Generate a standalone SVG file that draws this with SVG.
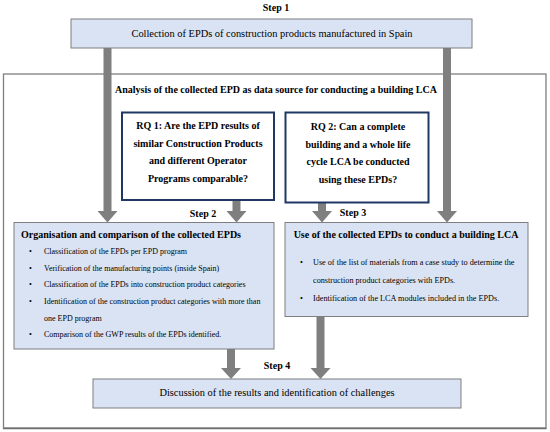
<svg xmlns="http://www.w3.org/2000/svg" width="550" height="432" viewBox="0 0 550 432">
<style>
  text { font-family: "Liberation Serif", "Times New Roman", serif; fill: #000; }
  .b { font-weight: bold; }
  .c { text-anchor: middle; }
  .box { fill: #dae3f3; stroke: #7f7f7f; stroke-width: 1; }
  .rq { fill: #ffffff; stroke: #1f3864; stroke-width: 2; }
  .outer { fill: none; stroke: #7f7f7f; stroke-width: 1.3; }
  .t10 { font-size: 10px; }
  .t104 { font-size: 10.4px; }
  .t8 { font-size: 8px; }
  .t82 { font-size: 8.2px; }
  .shaft { stroke: #7f7f7f; stroke-width: 8; fill: none; }
  .head { fill: #7f7f7f; }
</style>
<rect width="550" height="432" fill="#ffffff"/>

<g id="outer">
  <rect class="outer" x="3.5" y="74" width="542.5" height="354"/>
  <line x1="3" y1="428.5" x2="546.5" y2="428.5" stroke="#6f6f6f" stroke-width="1.5"/>
  <text class="b c t10" x="276" y="93">Analysis of the collected EPD as data source for conducting a building LCA</text>
</g>

<g id="connectors">
  <line class="shaft" x1="107.5" y1="48" x2="107.5" y2="212"/>
  <polygon class="head" points="97.5,211 117.5,211 107.5,222.5"/>
  <line class="shaft" x1="447" y1="48" x2="447" y2="212"/>
  <polygon class="head" points="437,211 457,211 447,222.5"/>
  <line class="shaft" x1="236.5" y1="200" x2="236.5" y2="212"/>
  <polygon class="head" points="226.5,211 246.5,211 236.5,222.5"/>
  <line class="shaft" x1="322" y1="203" x2="322" y2="212"/>
  <polygon class="head" points="312,211 332,211 322,222.5"/>
  <line class="shaft" x1="231" y1="349" x2="231" y2="369"/>
  <polygon class="head" points="221,368 241,368 231,379"/>
  <line class="shaft" x1="320.5" y1="317" x2="320.5" y2="369"/>
  <polygon class="head" points="310.5,368 330.5,368 320.5,379"/>
</g>

<g id="step1">
  <text class="b c t10" x="276" y="11">Step 1</text>
  <rect class="box" x="71" y="19" width="401" height="29"/>
  <text class="c t104" x="272" y="37">Collection of EPDs of construction products manufactured in Spain</text>
</g>

<g id="rq1">
  <rect class="rq" x="122" y="112.5" width="152" height="87.5"/>
  <text class="b c t10" x="198" y="129">RQ 1: Are the EPD results of</text>
  <text class="b c t10" x="198" y="146.7">similar Construction Products</text>
  <text class="b c t10" x="198" y="164.4">and different Operator</text>
  <text class="b c t10" x="198" y="182">Programs comparable?</text>
</g>

<g id="rq2">
  <rect class="rq" x="285.5" y="112.5" width="143" height="90"/>
  <text class="b c t10" x="358" y="130">RQ 2: Can a complete</text>
  <text class="b c t10" x="358" y="147.7">building and a whole life</text>
  <text class="b c t10" x="358" y="165.4">cycle LCA be conducted</text>
  <text class="b c t10" x="358" y="183">using these EPDs?</text>
</g>

<g id="step2">
  <text class="b c t10" x="203" y="217">Step 2</text>
  <rect class="box" x="14" y="222.5" width="260" height="126.5"/>
  <text class="b t10" x="21" y="237.7">Organisation and comparison of the collected EPDs</text>
  <text class="t8" x="29" y="254">•</text>
  <text class="t8" x="44" y="254">Classification of the EPDs per EPD program</text>
  <text class="t8" x="29" y="270.7">•</text>
  <text class="t8" x="44" y="270.7">Verification of the manufacturing points (inside Spain)</text>
  <text class="t8" x="29" y="287.4">•</text>
  <text class="t8" x="44" y="287.4">Classification of the EPDs into construction product categories</text>
  <text class="t8" x="29" y="304">•</text>
  <text class="t8" x="44" y="304">Identification of the construction product categories with more than</text>
  <text class="t8" x="44" y="320.7">one EPD program</text>
  <text class="t8" x="29" y="337.4">•</text>
  <text class="t8" x="44" y="337.4">Comparison of the GWP results of the EPDs identified.</text>
</g>

<g id="step3">
  <text class="b c t10" x="353" y="216">Step 3</text>
  <rect class="box" x="285" y="222.5" width="243" height="94"/>
  <text class="b c t10" x="406" y="237.7">Use of the collected EPDs to conduct a building LCA</text>
  <text class="t82" x="300" y="264.5">•</text>
  <text class="t82" x="313" y="264.5">Use of the list of materials from a case study to determine the</text>
  <text class="t82" x="313" y="283">construction product categories with EPDs.</text>
  <text class="t82" x="300" y="300.5">•</text>
  <text class="t82" x="313" y="300.5">Identification of the LCA modules included in the EPDs.</text>
</g>

<g id="step4">
  <text class="b c t10" x="277" y="369">Step 4</text>
  <rect class="box" x="93" y="379" width="368" height="29"/>
  <text class="c t104" x="277" y="396">Discussion of the results and identification of challenges</text>
</g>
</svg>
